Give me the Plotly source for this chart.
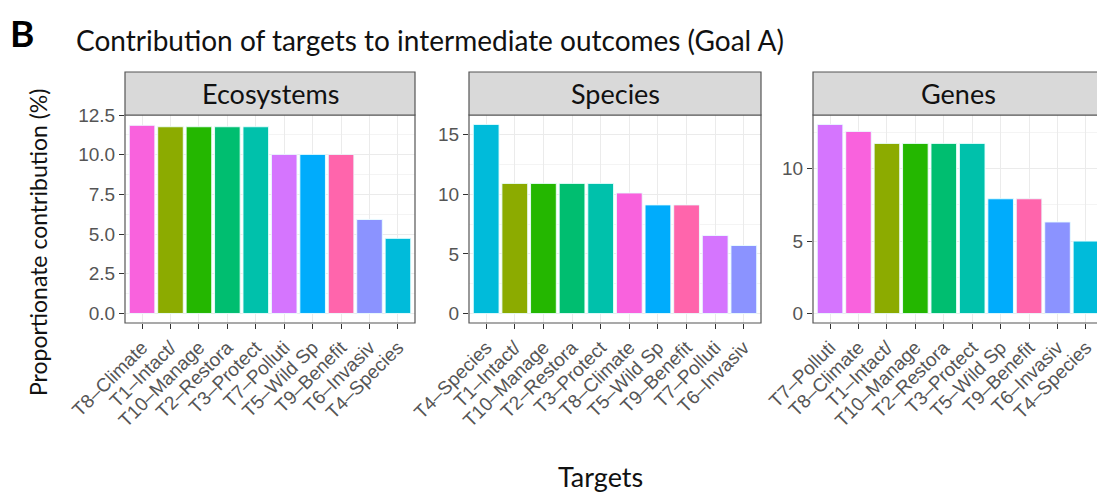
import plotly.graph_objects as go

# ---- data ----
panels = ["Ecosystems", "Species", "Genes"]

eco_targets = ["T8–Climate", "T1–Intact/", "T10–Manage", "T2–Restora", "T3–Protect",
               "T7–Polluti", "T5–Wild Sp", "T9–Benefit", "T6–Invasiv", "T4–Species"]
eco_values = [11.85, 11.76, 11.76, 11.76, 11.76, 10.02, 10.02, 10.02, 5.92, 4.73]

spe_targets = ["T4–Species", "T1–Intact/", "T10–Manage", "T2–Restora", "T3–Protect",
               "T8–Climate", "T5–Wild Sp", "T9–Benefit", "T7–Polluti", "T6–Invasiv"]
spe_values = [15.84, 10.9, 10.9, 10.9, 10.9, 10.1, 9.1, 9.1, 6.54, 5.7]

gen_targets = ["T7–Polluti", "T8–Climate", "T1–Intact/", "T10–Manage", "T2–Restora",
               "T3–Protect", "T5–Wild Sp", "T9–Benefit", "T6–Invasiv", "T4–Species"]
gen_values = [13.05, 12.57, 11.74, 11.74, 11.74, 11.74, 7.92, 7.92, 6.32, 5.0]

target_colors = {
    "T1–Intact/": "#8CAB00",
    "T10–Manage": "#24B700",
    "T2–Restora": "#00BE70",
    "T3–Protect": "#00C1AB",
    "T4–Species": "#00BBDA",
    "T5–Wild Sp": "#00ACFC",
    "T6–Invasiv": "#8B93FF",
    "T7–Polluti": "#D575FE",
    "T8–Climate": "#F962DD",
    "T9–Benefit": "#FF65AC",
}

y_ticks = [
    [0, 2.5, 5, 7.5, 10, 12.5],
    [0, 5, 10, 15],
    [0, 5, 10],
]
y_ticktext = [
    ["0.0", "2.5", "5.0", "7.5", "10.0", "12.5"],
    ["0", "5", "10", "15"],
    ["0", "5", "10"],
]
y_ranges = [[-0.6, 12.5], [-0.79, 16.63], [-0.65, 13.7]]

title_text = "Contribution of targets to intermediate outcomes (Goal A)"
panel_letter = "B"
x_title = "Targets"
y_title = "Proportionate contribution (%)"

# ---- layout geometry (pixels in the final screenshot) ----
OFF = 8                      # page body margin offset
W, H = 1105 - OFF, 493 - OFF
panel_x = [(125, 415), (469, 761), (813, 1103)]
plot_top, plot_bot = 115, 323
strip_top = 72

def fx(px):
    return (px - OFF) / W

def fy(py):
    return 1 - (py - OFF) / H

fig = go.Figure()
data = [(eco_targets, eco_values), (spe_targets, spe_values), (gen_targets, gen_values)]

TICKFONT = dict(family="Liberation Sans, Arial", size=19, color="#555555")
shapes = []
annotations = []

for i, (cats, vals) in enumerate(data):
    ax = "" if i == 0 else str(i + 1)
    fig.add_trace(go.Bar(
        x=cats, y=vals,
        xaxis="x" + ax, yaxis="y" + ax,
        marker=dict(color=[target_colors[c] for c in cats],
                    line=dict(color="rgba(235,255,255,0.9)", width=1)),
        width=0.9,
        showlegend=False,
    ))
    x0, x1 = panel_x[i]
    fig.update_layout(**{
        "xaxis" + ax: dict(
            domain=[fx(x0), fx(x1)], anchor="y" + ax, automargin=False,
            categoryorder="array", categoryarray=cats,
            range=[-0.6, len(cats) - 0.4],
            tickangle=-45, tickfont=TICKFONT,
            ticks="outside", ticklen=5, tickcolor="#333333", tickwidth=1,
            showgrid=True, gridcolor="#EBEBEB", gridwidth=1,
            showline=False, zeroline=False, fixedrange=True,
        ),
        "yaxis" + ax: dict(
            domain=[fy(plot_bot), fy(plot_top)], anchor="x" + ax, automargin=False,
            range=y_ranges[i],
            tickmode="array", tickvals=y_ticks[i], ticktext=y_ticktext[i],
            tickfont=TICKFONT,
            ticks="outside", ticklen=5, tickcolor="#333333", tickwidth=1,
            showgrid=True, gridcolor="#EBEBEB", gridwidth=1,
            minor=dict(showgrid=True, gridcolor="#F4F4F4", gridwidth=0.5,
                       tickvals=[(a + b) / 2 for a, b in zip(y_ticks[i][:-1], y_ticks[i][1:])] +
                                [y_ticks[i][-1] + (y_ticks[i][1] - y_ticks[i][0]) / 2]),
            showline=False, zeroline=False, fixedrange=True,
        ),
    })
    # panel border
    shapes.append(dict(type="rect", xref="paper", yref="paper",
                       x0=fx(x0), x1=fx(x1), y0=fy(plot_bot), y1=fy(plot_top),
                       line=dict(color="#555555", width=1.2), fillcolor="rgba(0,0,0,0)",
                       layer="above"))
    # strip
    shapes.append(dict(type="rect", xref="paper", yref="paper",
                       x0=fx(x0), x1=fx(x1), y0=fy(plot_top), y1=fy(strip_top),
                       line=dict(color="#555555", width=1.2), fillcolor="#D9D9D9",
                       layer="above"))
    annotations.append(dict(text=panels[i], xref="paper", yref="paper",
                            x=fx((x0 + x1) / 2), y=fy((plot_top + strip_top) / 2),
                            xanchor="center", yanchor="middle", showarrow=False,
                            font=dict(family="Lato", size=27, color="#111111")))

annotations += [
    dict(text="<b>" + panel_letter + "</b>", xref="paper", yref="paper",
         x=fx(9), y=fy(32), xanchor="left", yanchor="middle", showarrow=False,
         borderpad=0,
         font=dict(family="Lato", size=37, color="#000000")),
    dict(text=title_text, xref="paper", yref="paper",
         x=fx(74), y=fy(40), xanchor="left", yanchor="middle", showarrow=False,
         font=dict(family="Lato", size=28, color="#111111")),
    dict(text=x_title, xref="paper", yref="paper",
         x=fx(600), y=fy(476), xanchor="center", yanchor="middle", showarrow=False,
         font=dict(family="Lato", size=27, color="#111111")),
    dict(text=y_title, xref="paper", yref="paper",
         x=fx(38), y=fy(243), xanchor="center", yanchor="middle", showarrow=False,
         textangle=-90,
         font=dict(family="Lato", size=23, color="#111111")),
]

fig.update_layout(
    width=W, height=H,
    margin=dict(l=0, r=0, t=0, b=0),
    paper_bgcolor="white", plot_bgcolor="white",
    shapes=shapes, annotations=annotations,
    bargap=0.1,
)

fig.write_html("out.html")
